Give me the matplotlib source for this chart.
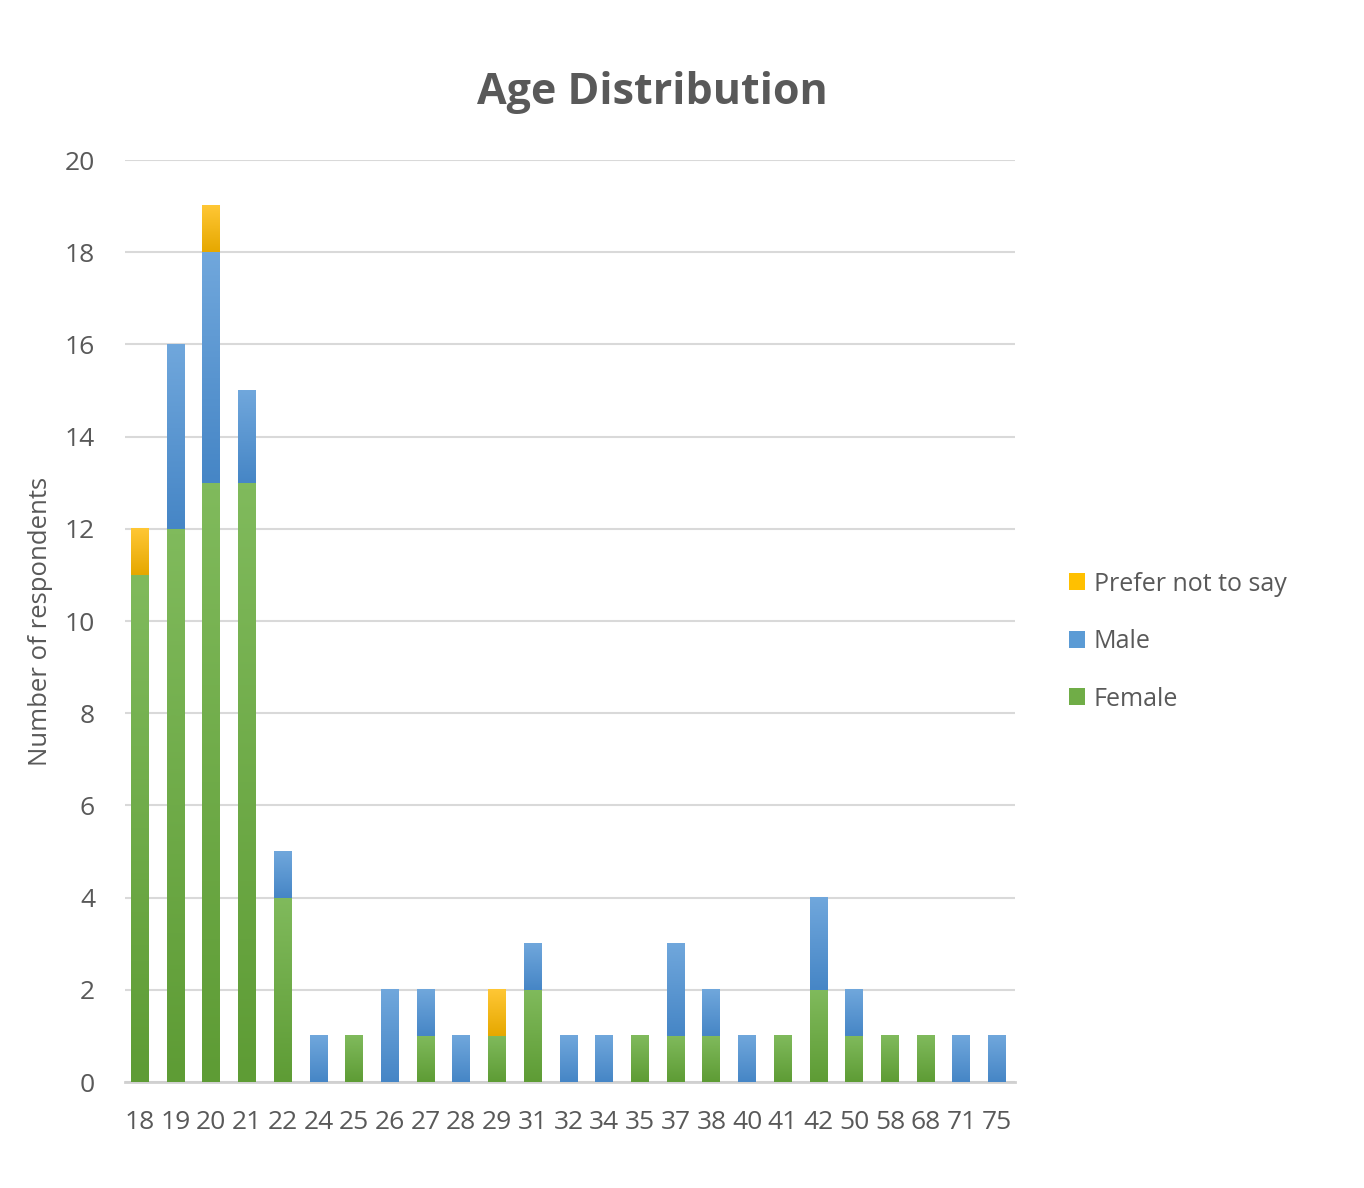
import matplotlib
matplotlib.use("Agg")
import matplotlib.pyplot as plt
import numpy as np
from matplotlib.colors import LinearSegmentedColormap
from matplotlib.patches import Patch

ages = ["18", "19", "20", "21", "22", "24", "25", "26", "27", "28", "29", "31", "32",
        "34", "35", "37", "38", "40", "41", "42", "50", "58", "68", "71", "75"]
female = [11, 12, 13, 13, 4, 0, 1, 0, 1, 0, 1, 2, 0, 0, 1, 1, 1, 0, 1, 2, 1, 1, 1, 0, 0]
male = [0, 4, 5, 2, 1, 1, 0, 2, 1, 1, 0, 1, 1, 1, 0, 2, 1, 1, 0, 2, 1, 0, 0, 1, 1]
prefer = [1, 0, 1, 0, 0, 0, 0, 0, 0, 0, 1, 0, 0, 0, 0, 0, 0, 0, 0, 0, 0, 0, 0, 0, 0]
yticks = [0, 2, 4, 6, 8, 10, 12, 14, 16, 18, 20]

plt.rcParams['font.family'] = ['Open Sans', 'DejaVu Sans']
TXT = "#595959"

fig = plt.figure(figsize=(13.64, 11.88), dpi=100)
ax = fig.add_axes([0.0916, 0.0892, 0.6525, 0.7761])

x = np.arange(len(ages))
w = 0.5
female = np.array(female); male = np.array(male); prefer = np.array(prefer)

series = [
    ("Female", female, np.zeros(len(ages)), "#70AD47", ("#5E9C35", "#80BA5C")),
    ("Male", male, female, "#5B9BD5", ("#4686C6", "#70A7DC")),
    ("Prefer not to say", prefer, female + male, "#FFC000", ("#E6A800", "#FFC735")),
]

for name, vals, bottom, col, (c0, c1) in series:
    bars = ax.bar(x, vals, w, bottom=bottom, color=col, edgecolor="none", zorder=3, label=name)
    cmap = LinearSegmentedColormap.from_list(name, [c0, c1])
    grad = np.linspace(1, 0, 64).reshape(-1, 1)
    for b in bars:
        if b.get_height() <= 0:
            continue
        x0 = b.get_x(); y0 = b.get_y()
        ax.imshow(grad, cmap=cmap, extent=(x0, x0 + b.get_width(), y0, y0 + b.get_height()),
                  aspect='auto', zorder=3.5, interpolation='bilinear')
        b.set_facecolor("none")

ax.set_xlim(-0.42, len(ages) - 0.5)
ax.set_ylim(0, 20)
ax.set_yticks(yticks)
ax.set_xticks(x)
ax.set_xticklabels(ages)
ax.tick_params(axis='both', length=0, labelsize=19, colors=TXT)
ax.tick_params(axis='x', pad=20)
ax.tick_params(axis='y', pad=21.5)
ax.grid(axis='y', color="#D9D9D9", linewidth=1.5, zorder=0)
for s in ["top", "right", "left"]:
    ax.spines[s].set_visible(False)
ax.spines["bottom"].set_color("#D0D0D0")
ax.spines["bottom"].set_linewidth(2)

ax.set_ylabel("Number of respondents", fontsize=18.5, color=TXT)
ax.yaxis.set_label_coords(-0.081, 0.5)
fig.text(0.478, 0.922, "Age Distribution", ha='center', va='center', fontsize=31,
         fontweight='bold', color=TXT)

leg_handles = [Patch(facecolor="#FFC000"), Patch(facecolor="#5B9BD5"), Patch(facecolor="#70AD47")]
leg = fig.legend(leg_handles, ["Prefer not to say", "Male", "Female"], loc='center left',
                 bbox_to_anchor=(0.767, 0.460), frameon=False, fontsize=18,
                 handlelength=0.65, handleheight=0.65, handletextpad=0.35, labelspacing=1.3)
for t in leg.get_texts():
    t.set_color(TXT)

fig.savefig("out.png", dpi=100, facecolor="white")
